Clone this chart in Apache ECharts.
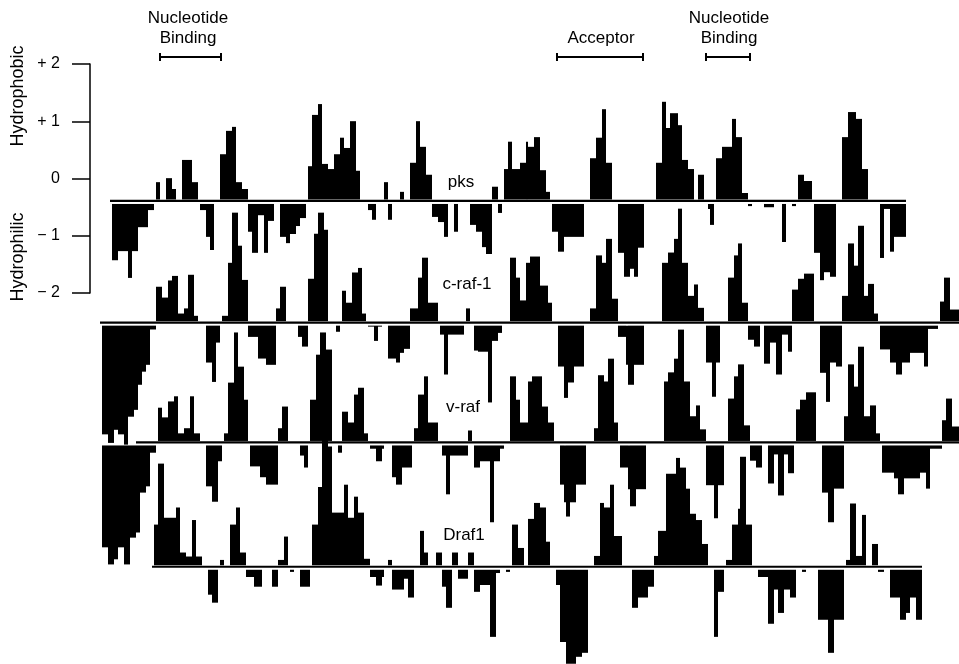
<!DOCTYPE html>
<html><head><meta charset="utf-8">
<script src="https://cdn.jsdelivr.net/npm/echarts@6/dist/echarts.min.js"></script>
<style>html,body{margin:0;padding:0;background:#fff}#c{width:959px;height:664px}</style>
</head><body><div id="c"></div><script>
// Hydropathy profiles: [alignment position, hydropathy value]; each value holds until the next position.
const pks = [[6,-1.04],[9,-0.88],[14,-1.35],[16,-0.88],[19,-0.46],[24,-0.16],[27,0],[28,0.33],[30,0],[33,0.40],[36,0.21],[38,0],[41,0.72],[46,0.33],[49,0],[50,-0.16],[53,-0.63],[55,-0.86],[57,0],[60,0.82],[63,1.23],[66,1.30],[68,0.33],[71,0.21],[74,-0.54],[76,-0.91],[79,-0.25],[82,-0.91],[84,-0.35],[87,0],[90,-0.63],[93,-0.74],[95,-0.58],[98,-0.44],[100,-0.30],[103,0],[104,0.61],[106,1.51],[109,1.70],[111,0.65],[114,0.56],[117,0.82],[120,1.11],[122,0.93],[125,1.40],[128,0.53],[130,0],[134,-0.16],[136,-0.33],[138,0],[142,0.33],[144,-0.33],[146,0],[150,0.16],[152,0],[155,0.67],[158,1.40],[160,0.95],[163,0.46],[166,-0.28],[169,-0.37],[172,-0.63],[174,0],[177,-0.54],[179,0],[185,-0.42],[188,-0.54],[191,-0.81],[193,-0.93],[196,0.25],[199,-0.21],[201,0],[202,0.56],[204,1.04],[206,0.56],[210,0.67],[213,1.04],[214,0.95],[217,1.12],[220,0.54],[223,0.16],[225,0],[226,-0.54],[229,-0.89],[232,-0.63],[242,0],[245,0.75],[248,1.11],[251,1.61],[253,0.67],[256,0],[259,-0.91],[262,-1.33],[265,-1.19],[267,-1.33],[269,-0.82],[272,0],[278,0.67],[281,1.74],[283,1.28],[285,1.54],[289,1.33],[291,0.72],[294,0.56],[297,0],[299,0.46],[302,0],[304,-0.14],[305,-0.42],[307,0],[308,0.75],[311,0.95],[316,1.44],[318,1.12],[321,0.14],[324,-0.09],[326,0],[332,-0.11],[337,0],[341,-0.72],[343,0],[346,-0.09],[348,0],[349,0.46],[352,0.35],[356,0],[357,-0.91],[360,-1.39],[362,-1.25],[365,-1.33],[368,0],[371,1.12],[374,1.56],[378,1.44],[381,0.56],[384,0],[390,-1.00],[392,-0.14],[395,-0.89],[397,-0.63],[403,0]];
const craf1 = [[1,-1.96],[4,-2.11],[7,-1.88],[9,-1.96],[12,-2.14],[14,-1.65],[17,-1.53],[19,-1.09],[21,-0.86],[23,-0.74],[25,-0.12],[28,0.63],[31,0.44],[34,0.74],[36,0.82],[39,0.16],[42,0.25],[44,0.84],[47,0.12],[49,0],[53,-0.70],[56,-1.04],[58,-0.35],[60,0],[61,0.12],[64,1.05],[66,1.93],[69,1.35],[71,0.75],[74,-0.25],[79,-0.63],[83,-0.74],[88,0.25],[90,0.63],[93,0],[99,-0.25],[101,-0.42],[104,0.77],[107,1.56],[109,1.93],[112,1.63],[114,0],[118,-0.16],[120,0],[121,0.56],[123,0.35],[126,0.88],[129,0.96],[131,0.16],[133,0],[134,-0.07],[137,-0.32],[139,-0.07],[141,0],[144,-0.63],[148,-0.70],[150,-0.53],[152,-0.46],[155,0.25],[159,0.79],[161,1.14],[164,0.35],[169,0],[170,-0.21],[172,-0.91],[174,-0.21],[182,0],[183,0.25],[185,0],[187,-0.49],[189,-0.51],[194,-1.40],[196,-0.32],[199,-0.18],[201,0],[205,1.14],[208,0.79],[210,0.39],[213,1.05],[215,1.16],[220,0.65],[224,0.35],[226,0],[229,-0.77],[232,-1.32],[234,-1.05],[237,-0.77],[242,0],[245,0.25],[248,1.18],[251,1.05],[253,1.47],[256,0.42],[259,-0.25],[263,-0.74],[264,-1.09],[267,-0.74],[272,0],[281,1.05],[284,1.23],[287,1.47],[289,2.00],[291,1.05],[294,0.47],[297,0.67],[299,0.26],[302,0],[303,-0.70],[306,-1.30],[308,-0.70],[310,0],[314,0.79],[317,1.18],[319,1.39],[321,0.35],[324,-0.30],[327,-0.42],[330,0],[332,-0.72],[335,-0.35],[338,-0.91],[341,-0.21],[344,-0.51],[346,0.58],[349,0.77],[352,0.86],[357,0],[360,-0.88],[363,-1.39],[365,-0.70],[368,-0.77],[371,0.47],[374,1.39],[377,1.00],[379,1.70],[382,0.47],[384,0.68],[387,0.16],[389,0],[390,-0.47],[395,-0.70],[398,-0.91],[401,-0.70],[405,-0.53],[412,-0.77],[414,-0.11],[419,0],[420,0.37],[422,0.79],[425,0.23],[430,0]];
const vraf = [[1,-1.84],[4,-2.14],[7,-2.05],[9,-1.84],[12,-2.14],[15,-1.67],[18,-1.58],[20,-0.88],[23,-0.77],[25,-0.18],[28,0],[29,0.61],[31,0.44],[34,0.72],[37,0.81],[39,0.16],[42,0.25],[45,0.81],[47,0.16],[50,0],[53,-0.77],[56,-1.04],[59,-0.33],[61,0],[62,0.16],[64,1.05],[67,1.93],[69,1.33],[72,0.75],[74,0],[75,-0.42],[80,-0.61],[83,-0.74],[89,0.25],[91,0.63],[94,0],[100,-0.23],[102,-0.44],[104,0],[105,0.75],[108,1.54],[110,1.93],[113,1.63],[116,0],[119,-0.18],[121,0.54],[124,0.35],[127,0.84],[129,0.96],[132,0.16],[134,0],[135,-0.11],[138,-0.33],[141,-0.11],[142,0],[146,-0.61],[148,-0.74],[151,-0.44],[156,0],[157,0.25],[159,0.84],[162,1.16],[164,0.35],[169,0],[171,-0.23],[173,-0.91],[175,-0.23],[184,0.21],[186,0],[187,-0.44],[190,-0.33],[195,-1.40],[197,-0.33],[200,-0.11],[202,0],[205,1.16],[208,0.75],[210,0.35],[214,1.07],[216,1.16],[221,0.63],[224,0.35],[227,0],[230,-0.74],[232,-1.05],[233,-1.30],[235,-1.05],[238,-0.74],[243,0],[247,0.25],[249,1.18],[252,1.07],[254,1.47],[257,0.35],[259,0],[260,-0.44],[264,-0.82],[265,-1.12],[268,-0.82],[273,0],[282,1.07],[284,1.23],[287,1.47],[289,1.98],[292,1.07],[295,0.46],[298,0.65],[300,0.23],[303,-0.75],[307,-1.33],[309,-0.75],[312,0],[314,0.77],[317,1.16],[319,1.37],[322,0.30],[325,-0.32],[328,-0.44],[331,0],[334,-0.72],[337,-0.21],[339,-0.93],[342,-0.21],[344,-0.54],[347,0],[348,0.58],[350,0.75],[353,0.88],[358,0],[361,-0.88],[364,-1.40],[367,-0.81],[372,0.46],[374,1.37],[377,0.98],[379,1.68],[382,0.46],[385,0.65],[388,0.16],[390,0],[391,-0.53],[397,-0.63],[399,-0.91],[402,-0.63],[410,-0.53],[413,-0.81],[415,-0.11],[421,0.39],[423,0.77],[426,0.28],[430,0]];
const draf1 = [[27,0.74],[29,1.81],[32,0.86],[38,1.04],[40,0.25],[43,0.18],[46,0.82],[48,0.18],[51,0],[54,-0.49],[56,-0.63],[59,0],[60,0.12],[62,0],[65,0.74],[68,1.04],[70,0.25],[73,-0.18],[77,-0.35],[81,0],[86,-0.35],[89,0.12],[92,0.53],[94,0],[95,-0.09],[97,0],[100,-0.35],[105,0],[106,0.74],[109,1.40],[111,2.33],[114,2.11],[116,0.95],[122,1.44],[124,0.86],[127,1.23],[129,0.95],[132,0.14],[135,-0.18],[138,-0.33],[141,-0.18],[142,0],[144,0.12],[146,-0.40],[152,-0.21],[154,-0.54],[157,0],[160,0.63],[162,0.25],[164,0],[168,0.25],[171,-0.35],[173,-0.72],[176,0.25],[179,-0.21],[184,0.25],[187,-0.44],[190,-0.32],[195,-1.23],[198,-0.11],[200,0],[203,-0.09],[205,0],[206,0.74],[209,0.33],[212,0],[214,0.84],[217,1.12],[220,1.04],[223,0.44],[225,0],[228,-0.32],[230,-1.32],[233,-1.70],[238,-1.58],[241,-1.51],[244,0],[247,0.19],[250,1.12],[252,1.04],[255,1.44],[257,0.54],[261,0],[266,-0.72],[269,-0.54],[274,-0.35],[277,0.19],[279,0.63],[283,1.63],[288,1.91],[290,1.74],[293,1.37],[295,0.93],[298,0.82],[301,0.40],[304,0],[307,-1.23],[309,-0.44],[312,0],[313,0.12],[316,0.74],[319,1.02],[320,1.93],[323,0.74],[326,0],[329,-0.18],[334,-1.00],[337,-0.40],[339,-0.81],[342,-0.40],[345,-0.54],[348,0],[351,-0.09],[353,0],[359,-0.93],[364,-1.51],[367,-0.93],[372,0],[373,0.12],[375,1.11],[378,0.19],[381,0.91],[383,0],[386,0.40],[389,-0.09],[392,0],[395,-0.54],[400,-0.93],[403,-0.81],[405,-0.54],[408,-0.93],[411,0]];

const trackNames = ['pks', 'c-raf-1', 'v-raf', 'Draf1'];
const trackProfiles = [pks, craf1, vraf, draf1];
const trackExtents = [[5, 403], [0, 430], [18, 430], [26, 411]];
const axisTicks = [2, 1, 0, -1, -2];
const axisTickLabels = ['+ 2', '+ 1', '0', '\u2212 1', '\u2212 2'];

// layout: vertical offset of each track's baseline on the shared value axis
const trackOffsets = [-0.406, -2.541, -4.643, -6.824];

function runs(profile) {
  const out = [];
  for (let i = 0; i < profile.length - 1; i++) {
    if (profile[i][1] !== 0) out.push([profile[i][0], profile[i + 1][0], profile[i][1]]);
  }
  return out;
}

const series = [];
trackProfiles.forEach((prof, t) => {
  const base = trackOffsets[t];
  series.push({
    type: 'custom', xAxisIndex: 0, yAxisIndex: 0, silent: true,
    data: runs(prof),
    renderItem: function (params, api) {
      const p0 = api.value(0), p1 = api.value(1), v = api.value(2);
      const a = api.coord([p0, base]);
      const b = api.coord([p1, base + v]);
      let y0, h;
      if (v > 0) { y0 = b[1]; h = (a[1] - 1.5) - b[1]; }
      else { y0 = a[1] + 3; h = b[1] - y0; }
      return { type: 'rect', shape: { x: a[0], y: y0, width: b[0] - a[0], height: Math.max(h, 1) },
        style: { fill: '#000' } };
    }
  });
  series.push({
    type: 'custom', xAxisIndex: 0, yAxisIndex: 0, silent: true,
    data: [trackExtents[t]],
    renderItem: function (params, api) {
      const a = api.coord([api.value(0), base]);
      const b = api.coord([api.value(1), base]);
      return { type: 'line', shape: { x1: a[0], y1: a[1], x2: b[0], y2: b[1] },
        style: { stroke: '#000', lineWidth: 2.2 } };
    }
  });
});

const font = '"Liberation Sans", Arial, sans-serif';
function txt(x, y, s, extra) {
  return Object.assign({ type: 'text', x: x, y: y, style: { text: s, font: '17px ' + font, fill: '#000', textAlign: 'center', textVerticalAlign: 'middle' } }, extra || {});
}
function bracket(x1, x2, y) {
  return [
    { type: 'line', shape: { x1: x1, y1: y, x2: x2, y2: y }, style: { stroke: '#000', lineWidth: 2 } },
    { type: 'line', shape: { x1: x1, y1: y - 4, x2: x1, y2: y + 4 }, style: { stroke: '#000', lineWidth: 2 } },
    { type: 'line', shape: { x1: x2, y1: y - 4, x2: x2, y2: y + 4 }, style: { stroke: '#000', lineWidth: 2 } }
  ];
}

const trackLabelPos = [[461, 182], [467, 284], [463, 407], [464, 535]];
const graphics = [
  txt(188, 18, 'Nucleotide'), txt(188, 38, 'Binding'),
  txt(601, 38, 'Acceptor'),
  txt(729, 18, 'Nucleotide'), txt(729, 38, 'Binding'),
  ...bracket(160, 221, 57), ...bracket(557, 643, 57), ...bracket(706, 750, 57),
  { type: 'text', x: 18, y: 96, rotation: Math.PI / 2, style: { text: 'Hydrophobic', font: '18px ' + font, fill: '#000', textAlign: 'center', textVerticalAlign: 'middle' } },
  { type: 'text', x: 18, y: 257, rotation: Math.PI / 2, style: { text: 'Hydrophilic', font: '18px ' + font, fill: '#000', textAlign: 'center', textVerticalAlign: 'middle' } }
];
trackNames.forEach((n, i) => graphics.push(txt(trackLabelPos[i][0], trackLabelPos[i][1], n)));

const chart = echarts.init(document.getElementById('c'), null, { renderer: 'canvas' });
chart.setOption({
  animation: false,
  backgroundColor: '#fff',
  grid: [
    { left: 0, top: 0, width: 959, height: 664 },
    { left: 90, top: 64, width: 10, height: 229 }
  ],
  xAxis: [
    { type: 'value', gridIndex: 0, min: -50, max: 429.5, show: false },
    { type: 'value', gridIndex: 1, min: 0, max: 1, show: false }
  ],
  yAxis: [
    { type: 'value', gridIndex: 0, min: -8.53, max: 3.12, show: false },
    { type: 'value', gridIndex: 1, min: -2, max: 2, interval: 1, position: 'left',
      axisLine: { show: true, lineStyle: { color: '#000', width: 1.5 } },
      axisTick: { show: true, length: 18, lineStyle: { color: '#000', width: 1.5 } },
      splitLine: { show: false },
      axisLabel: { color: '#000', fontSize: 16, fontFamily: font, margin: 30,
        formatter: function (v) { const i = axisTicks.indexOf(v); return i >= 0 ? axisTickLabels[i] : ''; } } }
  ],
  series: series,
  graphic: graphics
});
</script></body></html>
